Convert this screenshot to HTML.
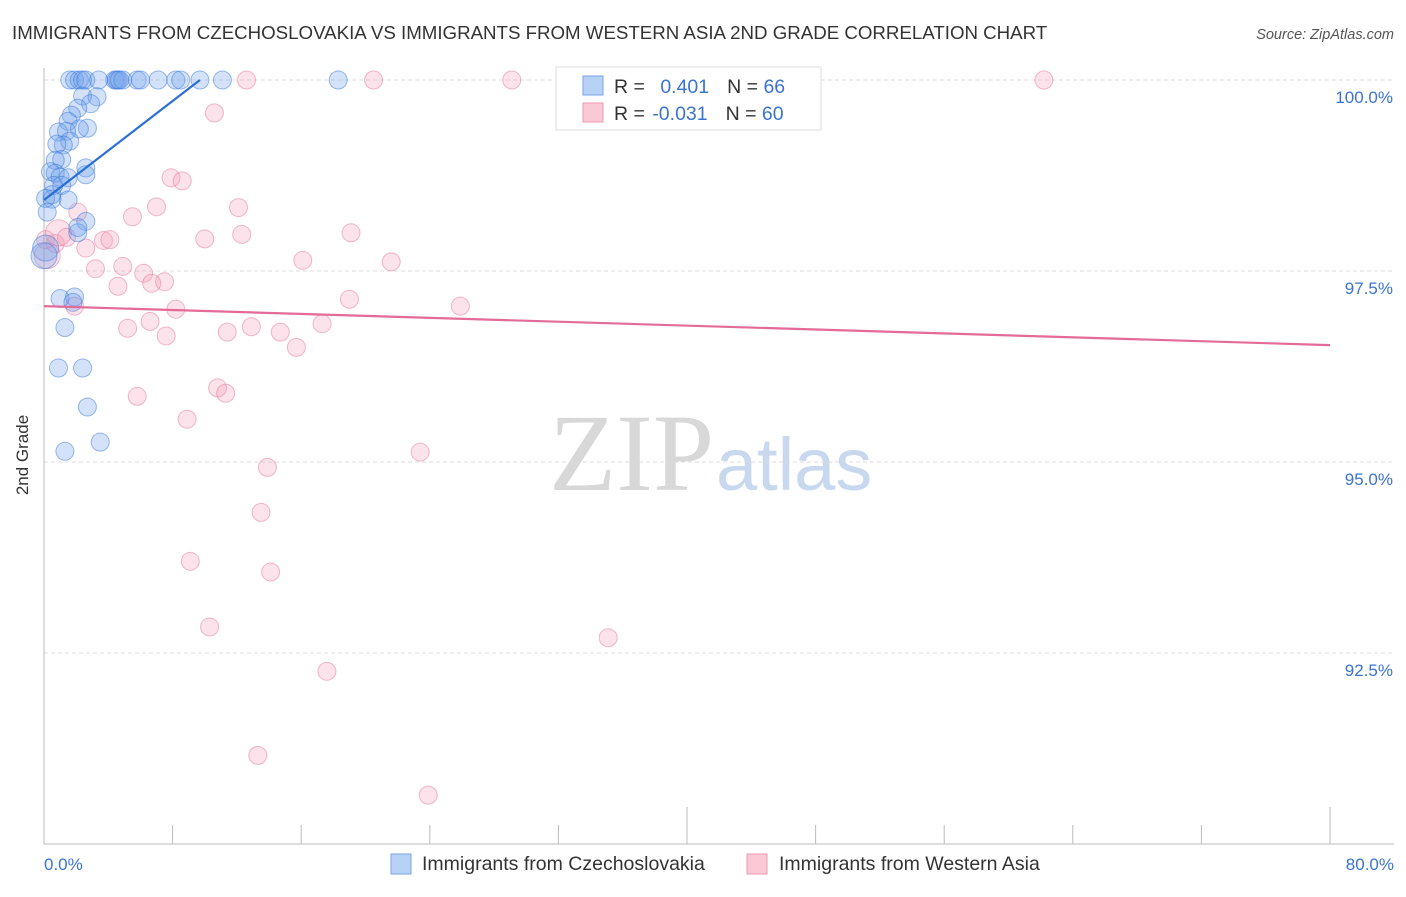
<!DOCTYPE html>
<html><head><meta charset="utf-8"><style>
body{margin:0;background:#fff;font-family:"Liberation Sans",sans-serif;}
</style></head><body>
<svg width="1406" height="892" xmlns="http://www.w3.org/2000/svg">
<text x="12" y="39" font-size="18.7" fill="#333">IMMIGRANTS FROM CZECHOSLOVAKIA VS IMMIGRANTS FROM WESTERN ASIA 2ND GRADE CORRELATION CHART</text>
<text x="1394" y="39" font-size="14.5" fill="#555" font-style="italic" text-anchor="end">Source: ZipAtlas.com</text>
<text x="714" y="490" font-size="110" font-family="Liberation Serif,serif" fill="#d8d8d8" text-anchor="end">ZIP</text>
<text x="716" y="490" font-size="74" fill="#c8d8ee">atlas</text>
<g id="grid"></g>
<g id="axes"></g>
<g id="pts"></g>
<g id="lines"></g>
<text x="28" y="455" font-size="17" fill="#333" text-anchor="middle" transform="rotate(-90 28 455)">2nd Grade</text>
<g>
<rect x="556" y="67" width="265" height="63" fill="#fff" stroke="#ddd"/>
<rect x="583" y="76" width="20" height="19" fill="#b8d2f5" stroke="#7aa6e6"/>
<rect x="583" y="103" width="20" height="19" fill="#fbc8d6" stroke="#ee9ab2"/>
<text x="614" y="93" font-size="19.5" fill="#333">R = <tspan fill="#3a74d0" dx="10">0.401</tspan><tspan dx="18" fill="#333">N = </tspan><tspan fill="#3a74d0">66</tspan></text>
<text x="614" y="120" font-size="19.5" fill="#333">R = <tspan fill="#3a74d0" dx="2">-0.031</tspan><tspan dx="18" fill="#333">N = </tspan><tspan fill="#3a74d0">60</tspan></text>
</g>
<text x="44" y="870" font-size="17" fill="#3a74d0">0.0%</text>
<text x="1394" y="870" font-size="17" fill="#3a74d0" text-anchor="end">80.0%</text>
<rect x="391" y="854" width="20" height="20" fill="#b8d2f5" stroke="#7aa6e6"/>
<text x="422" y="870" font-size="19.5" fill="#333">Immigrants from Czechoslovakia</text>
<rect x="747" y="854" width="20" height="20" fill="#fbc8d6" stroke="#ee9ab2"/>
<text x="779" y="870" font-size="19.5" fill="#333">Immigrants from Western Asia</text>
</svg>
<script>
const yTicks=[100,97.5,95,92.5];
const yTickLabels=["100.0%","97.5%","95.0%","92.5%"];
const blueX=[1.6,1.9,2.2,2.4,2.6,3.4,4.4,4.5,4.6,4.7,4.9,5.8,6.0,7.1,8.2,8.5,9.7,11.1,18.3,2.4,3.3,2.9,2.1,1.7,1.5,2.7,2.2,0.9,1.4,1.6,1.2,0.8,1.1,0.7,2.6,2.6,0.4,0.7,1.0,1.5,1.1,0.6,0.5,0.1,1.5,0.5,0.2,2.6,2.1,0.1,0.0,1.0,1.9,1.8,1.3,0.9,2.4,2.7,3.5,1.3,2.1];
const blueY=[100,100,100,100,100,100,100,100,100,100,100,100,100,100,100,100,100,100,100,99.79,99.78,99.69,99.63,99.54,99.46,99.37,99.36,99.32,99.33,99.2,99.15,99.16,98.96,98.95,98.85,98.76,98.8,98.78,98.73,98.72,98.62,98.62,98.5,98.45,98.43,98.44,98.27,98.15,98.0,97.8,97.7,97.14,97.16,97.09,96.76,96.23,96.23,95.72,95.26,95.14,98.07];
const blueR=[9,9,9,9,9,9,9,9,9,9,9,9,9,9,9,9,9,9,9,9,9,9,9,9,9,9,9,9,9,9,9,9,9,9,9,9,9,9,9,9,9,9,9,9,9,9,9,9,9,13,13,9,9,9,9,9,9,9,9,9,9];
const pinkX=[12.6,20.5,29.1,42.2,62.2,10.6,7.9,8.6,7.0,12.1,5.5,2.1,10.0,12.3,19.1,3.7,4.1,0.1,0.7,2.6,16.1,21.6,4.9,3.2,6.2,7.5,6.7,4.6,19.0,25.9,8.2,1.9,6.6,5.2,7.6,11.4,12.9,14.7,17.3,15.7,5.8,10.8,11.3,8.9,23.4,13.9,13.5,9.1,14.1,10.3,35.1,17.6,13.3,23.9,0.9,0.2,1.4];
const pinkY=[100,100,100,100,100,99.57,98.72,98.68,98.34,98.33,98.21,98.27,97.92,97.98,98.0,97.9,97.91,97.91,97.86,97.8,97.64,97.62,97.56,97.53,97.47,97.36,97.34,97.3,97.13,97.04,97.0,97.04,96.84,96.75,96.65,96.7,96.77,96.7,96.81,96.5,95.86,95.97,95.9,95.56,95.13,94.93,94.34,93.7,93.56,92.84,92.7,92.26,91.16,90.64,98.0,97.7,97.94];
const pinkR=[9,9,9,9,9,9,9,9,9,9,9,9,9,9,9,9,9,9,9,9,9,9,9,9,9,9,9,9,9,9,9,9,9,9,9,9,9,9,9,9,9,9,9,9,9,9,9,9,9,9,9,9,9,9,13,13,9];
const blueTrendX=[0,9.7];
const blueTrendY=[98.43,100];
const pinkTrendX=[0,80];
const pinkTrendY=[97.04,96.53];
const xTicks=[0,8,16,24,32,40,48,56,64,72,80];
const NS="http://www.w3.org/2000/svg";
const X=v=>44+v*16.075;
const Y=v=>80+(100-v)*76.4;
function mk(t,a,p){const e=document.createElementNS(NS,t);for(const k in a)e.setAttribute(k,a[k]);p.appendChild(e);return e;}
const grid=document.getElementById('grid'),axes=document.getElementById('axes'),pts=document.getElementById('pts'),lines=document.getElementById('lines');
yTicks.forEach((v,i)=>{
 const l=mk('line',{x1:44,x2:1394,y1:Y(v),y2:Y(v),stroke:'#ddd','stroke-dasharray':'4 3'},grid);
 
 
 const t=mk('text',{x:1393,y:Y(v)+23,'font-size':17,fill:'#3a74d0','text-anchor':'end'},grid);
 t.textContent=yTickLabels[i];
 
 
});
const ax=mk('line',{x1:44,x2:1394,y1:Y(90),y2:Y(90),stroke:'#bbb'},axes);


const ay=mk('line',{x1:44,x2:44,y1:68,y2:Y(90),stroke:'#bbb'},axes);


xTicks.forEach((v,i)=>{
 const tall=(i==5||i==10);
 const t=mk('line',{x1:X(v),x2:X(v),y1:Y(90)-(tall?37:19),y2:Y(90),stroke:'#bbb'},axes);
 
 
});
pinkX.forEach((v,i)=>{
 const c=mk('circle',{cx:X(v),cy:Y(pinkY[i]),r:pinkR[i],fill:'rgba(245,160,185,0.3)',stroke:'rgba(230,120,155,0.5)','stroke-width':1},pts);
 
 
});
blueX.forEach((v,i)=>{
 const c=mk('circle',{cx:X(v),cy:Y(blueY[i]),r:blueR[i],fill:'rgba(110,160,235,0.3)',stroke:'rgba(60,120,215,0.5)','stroke-width':1},pts);
 
 
});
const bl=mk('line',{x1:X(blueTrendX[0]),y1:Y(blueTrendY[0]),x2:X(blueTrendX[1]),y2:Y(blueTrendY[1]),stroke:'#2a6fd6','stroke-width':2.2},lines);


const pl=mk('line',{x1:X(pinkTrendX[0]),y1:Y(pinkTrendY[0]),x2:X(pinkTrendX[1]),y2:Y(pinkTrendY[1]),stroke:'#e46a98','stroke-width':2.2},lines);


</script>
</body></html>
